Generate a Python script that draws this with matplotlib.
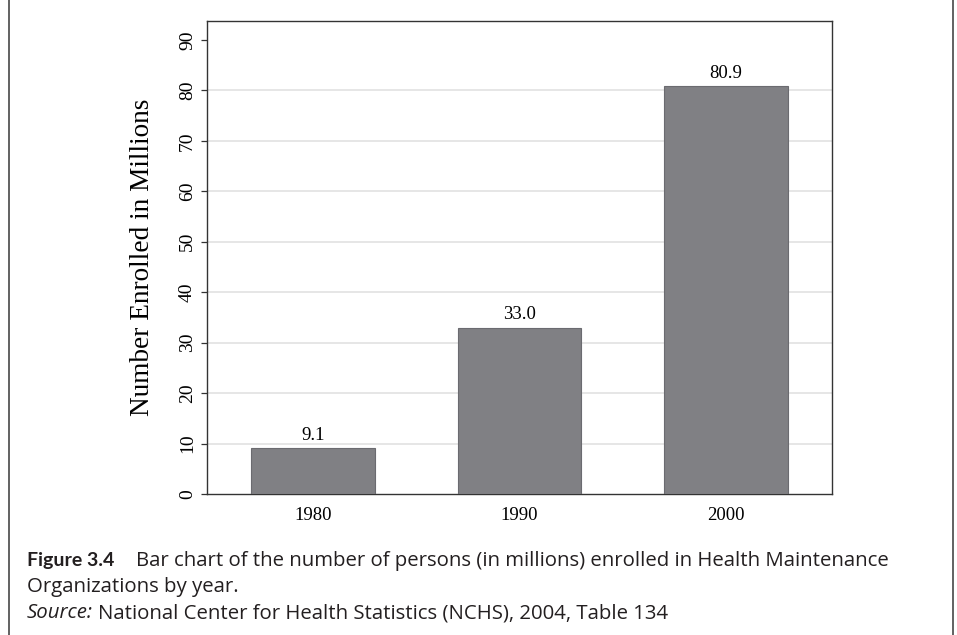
import matplotlib
matplotlib.use("Agg")
import matplotlib.pyplot as plt
from matplotlib.lines import Line2D

years = ["1980", "1990", "2000"]
enrolled = [9.1, 33.0, 80.9]
yticks = [0, 10, 20, 30, 40, 50, 60, 70, 80, 90]
ylabel = "Number Enrolled in Millions"
cap_bold = "Figure 3.4"
cap_rest = "Bar chart of the number of persons (in millions) enrolled in Health Maintenance"
cap_line2 = "Organizations by year."
src_it = "Source:"
src_rest = "National Center for Health Statistics (NCHS), 2004, Table 134"

W, H = 957, 635
fig = plt.figure(figsize=(W / 100, H / 100), dpi=100)
serif = "Liberation Serif"
sans = "Open Sans"

ax = fig.add_axes([207 / W, 1 - 494 / H, 625 / W, 473 / H])
x = list(range(len(years)))
ax.bar(x, enrolled, width=0.6, color="#808084", edgecolor="#6b6b70",
       linewidth=0.8, zorder=3)
ax.set_xlim(-0.515, 2.515)
ax.set_ylim(0, 93.77)

for t in yticks[1:-1]:
    ax.axhline(t, color="#e6e6e6", linewidth=1.4, zorder=1)

ax.set_yticks(yticks)
ax.set_yticklabels([str(t) for t in yticks], rotation=90, va="center",
                   fontfamily=serif, fontsize=14)
ax.set_xticks(x)
ax.set_xticklabels(years, fontfamily=serif, fontsize=13.5)
ax.tick_params(axis="y", length=4.5, width=0.9, color="#333333", pad=3.5)
ax.tick_params(axis="x", length=0, pad=9.5)
for s in ax.spines.values():
    s.set_color("#333333")
    s.set_linewidth(1.0)

for xi, v in zip(x, enrolled):
    ax.annotate(f"{v:.1f}", (xi, v), xytext=(0, 3), textcoords="offset points",
                ha="center", va="bottom", fontfamily=serif, fontsize=13.5)

ax.set_ylabel(ylabel, fontfamily=serif, fontsize=19.6)
ax.yaxis.set_label_coords(-0.083, 0.5)

fig.add_artist(Line2D([9 / W, 9 / W], [0, 1], color="#555555", linewidth=1.3))
fig.add_artist(Line2D([952.5 / W, 952.5 / W], [0, 1], color="#555555", linewidth=1.3))

# caption
fig.canvas.draw()
r = fig.canvas.get_renderer()
col = "#231f20"

def width_at(s, size, family, **kw):
    t = fig.text(0, 0, s, fontsize=size, fontfamily=family, **kw)
    w = t.get_window_extent(renderer=r).width
    t.remove()
    return w

base = 13.6
reg_size = base * 756 / width_at(cap_rest, base, sans)
bold_size = base * 87 / width_at(cap_bold, base, "Lato", fontweight="bold")

def put(xpix, ypix, s, size, family=sans, **kw):
    t = fig.text(xpix / W, 1 - ypix / H, s, fontsize=size, fontfamily=family,
                 color=col, va="baseline", ha="left", **kw)
    return t.get_window_extent(renderer=r).x1

put(27, 566, cap_bold, bold_size, family="Lato", fontweight="bold")
put(136, 566, cap_rest, reg_size)
put(27, 592, cap_line2, reg_size)
xe = put(27, 618, src_it, reg_size, fontstyle="italic")
put(xe + 5, 618, src_rest, reg_size)

fig.savefig("out.png", dpi=100)
